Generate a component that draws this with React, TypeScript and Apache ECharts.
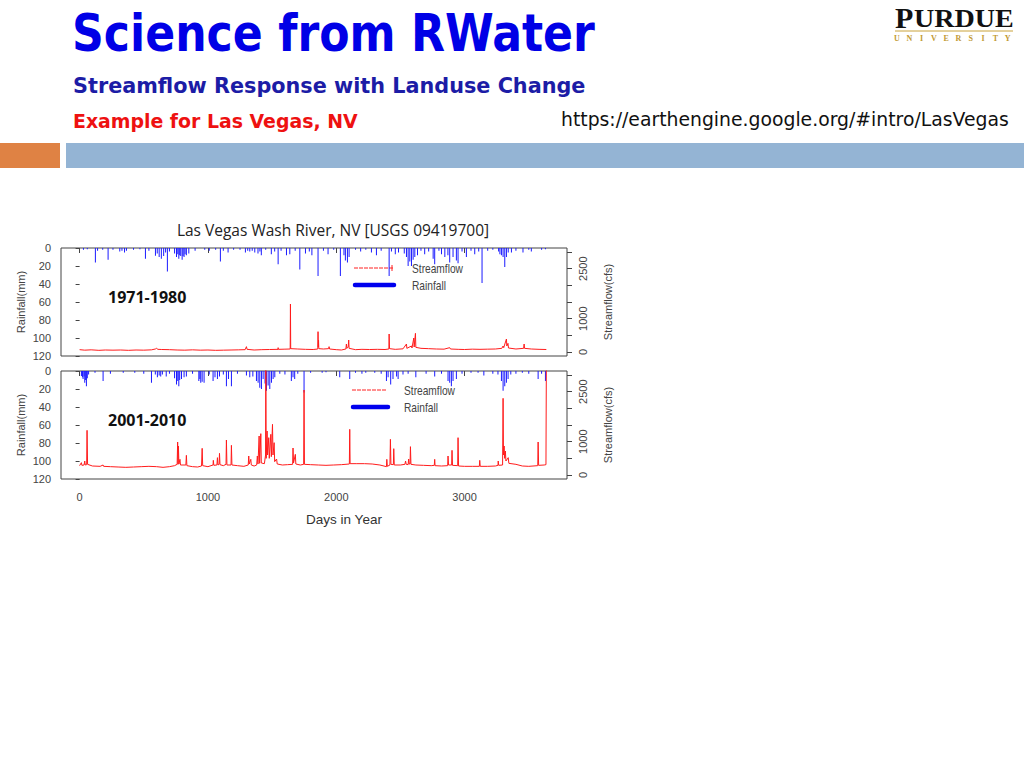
import React, { useEffect, useRef } from "react";
import * as echarts from "echarts";

// ---------- data ----------
const periods = ["1971-1980", "2001-2010"];
const xTickValues = [0, 1000, 2000, 3000];
const flowTickValues = [0, 500, 1000, 1500, 2000, 2500, 3000];
const flowLabelValues = [0, 1000, 2500];
const legendNames = ["Streamflow", "Rainfall"];

// [day, rainfall mm]
const rain7180: [number, number][] = [
  [30, 2], [60, 1.5], [123, 16], [140, 3], [180, 2], [222, 13], [260, 2], [313, 4], [330, 3], [350, 5],
  [365, 3], [420, 2], [470, 1.5], [513, 12], [540, 3], [591, 8.5], [605, 6], [620, 10], [637, 12], [655, 9],
  [670, 5], [684, 26], [700, 4], [740, 6], [755, 10], [765, 7], [773, 12], [780, 8], [788, 9], [799, 13],
  [806, 9], [814, 10], [822, 7], [832, 8], [851, 6], [900, 3], [975, 2], [1010, 3], [1060, 2], [1097, 15],
  [1120, 3], [1157, 5], [1200, 2], [1250, 2], [1292, 5], [1310, 3], [1326, 4], [1345, 3], [1365, 5], [1390, 6],
  [1405, 4], [1416, 8], [1450, 2], [1494, 7], [1520, 4], [1547, 18], [1570, 3], [1612, 8], [1638, 7], [1680, 3],
  [1716, 24], [1760, 6], [1790, 4], [1810, 8], [1858, 31], [1900, 3], [1936, 7], [1980, 2], [2032, 31], [2060, 8],
  [2071, 14], [2087, 16], [2100, 10], [2150, 2], [2190, 4], [2230, 2], [2274, 5], [2313, 8], [2350, 3], [2412, 31],
  [2430, 4], [2460, 7], [2485, 5], [2530, 6], [2547, 10], [2560, 20], [2573, 15], [2586, 20], [2599, 13], [2612, 10],
  [2633, 8], [2660, 3], [2689, 7], [2720, 4], [2755, 12], [2767, 18], [2800, 3], [2820, 7], [2846, 10], [2870, 8],
  [2884, 16], [2910, 10], [2936, 14], [2949, 17], [2980, 4], [3014, 10], [3050, 3], [3079, 7], [3110, 4], [3136, 39],
  [3180, 3], [3220, 2], [3265, 4], [3275, 7], [3287, 8], [3300, 10], [3313, 21], [3326, 10], [3340, 5], [3365, 5],
  [3400, 3], [3455, 5], [3500, 2], [3520, 4], [3600, 2], [3630, 1.5],
];

// [day, streamflow cfs]
const flow7180: [number, number][] = [
  [0, 70], [40, 55], [90, 65], [150, 50], [200, 60], [260, 55], [320, 60], [380, 50], [440, 60], [500, 55],
  [560, 65], [590, 90], [600, 110], [610, 80], [640, 75], [700, 70], [760, 60], [820, 55], [880, 65], [940, 55],
  [1000, 60], [1060, 50], [1120, 55], [1180, 60], [1240, 65], [1290, 70], [1300, 160], [1305, 80], [1360, 60], [1420, 70],
  [1480, 75], [1546, 80], [1547, 130], [1549, 80], [1600, 85], [1641, 90], [1643, 1440], [1645, 100], [1700, 90], [1760, 80],
  [1820, 75], [1856, 90], [1858, 610], [1860, 150], [1862, 350], [1864, 100], [1900, 90], [1940, 100], [1944, 160], [1948, 90],
  [2000, 70], [2040, 60], [2075, 90], [2079, 240], [2083, 110], [2093, 150], [2097, 360], [2100, 110], [2150, 70], [2200, 80],
  [2260, 75], [2320, 80], [2380, 75], [2410, 90], [2412, 540], [2415, 100], [2460, 80], [2520, 95], [2547, 240], [2550, 110],
  [2586, 180], [2590, 120], [2604, 420], [2607, 150], [2617, 560], [2620, 140], [2660, 110], [2720, 100], [2780, 90], [2840, 85],
  [2884, 130], [2890, 90], [2950, 80], [3000, 75], [3060, 85], [3120, 80], [3180, 85], [3240, 90], [3290, 110], [3300, 180],
  [3305, 130], [3326, 390], [3329, 180], [3338, 260], [3342, 120], [3400, 90], [3460, 110], [3464, 240], [3467, 110], [3520, 90],
  [3580, 80], [3637, 75],
];

const rain0110: [number, number][] = [
  [14, 5.5], [22, 7], [27, 9], [35, 6], [40, 13], [47, 10], [53, 17], [60, 8], [70, 4], [120, 2],
  [183, 11], [240, 3], [340, 2], [430, 2], [500, 3], [560, 13], [590, 4], [606, 7], [620, 5], [632, 6],
  [645, 4], [675, 6], [700, 3], [740, 8], [755, 15], [765, 11], [773, 17], [780, 10], [794, 9], [814, 7],
  [832, 6], [880, 3], [929, 11], [937, 9], [944, 13], [955, 12], [970, 13], [1010, 4], [1040, 11], [1055, 7],
  [1074, 9], [1090, 6], [1120, 4], [1144, 17], [1160, 9], [1183, 17], [1230, 3], [1300, 5], [1326, 7], [1350, 6],
  [1378, 11], [1391, 13], [1404, 18.5], [1417, 20], [1430, 9], [1445, 14], [1456, 22], [1469, 16], [1482, 20], [1495, 13],
  [1508, 9], [1521, 7], [1560, 3], [1600, 4], [1650, 11], [1663, 7], [1676, 9], [1700, 3], [1749, 24], [1800, 2],
  [1890, 2], [1920, 1.5], [2027, 7], [2105, 9], [2150, 2], [2200, 3], [2230, 2], [2300, 2], [2350, 3], [2391, 11],
  [2404, 7], [2424, 15], [2442, 9], [2470, 6], [2482, 9], [2520, 4], [2560, 3], [2620, 7], [2700, 3], [2767, 6],
  [2820, 3], [2871, 11], [2884, 13], [2897, 17], [2910, 11], [2936, 9], [2980, 3], [3050, 2], [3105, 2], [3150, 5],
  [3220, 3], [3260, 4], [3287, 11], [3300, 22], [3313, 17], [3326, 13], [3339, 9], [3360, 4], [3400, 3], [3450, 2],
  [3500, 3], [3573, 9], [3600, 3], [3630, 11],
];

const flow0110: [number, number][] = [
  [0, 280], [14, 370], [18, 290], [35, 300], [40, 420], [44, 300], [55, 310], [58, 1340], [62, 320], [100, 270],
  [160, 260], [183, 300], [187, 260], [240, 250], [300, 240], [360, 230], [420, 240], [480, 250], [540, 260], [600, 250],
  [650, 230], [700, 250], [740, 280], [760, 320], [764, 990], [767, 320], [770, 870], [774, 330], [782, 470], [786, 300],
  [828, 300], [832, 590], [836, 280], [880, 250], [920, 240], [950, 270], [955, 800], [959, 280], [1000, 250], [1040, 300],
  [1042, 440], [1046, 290], [1070, 300], [1074, 520], [1078, 300], [1087, 320], [1090, 650], [1094, 310], [1120, 280], [1141, 320],
  [1144, 1050], [1148, 300], [1180, 300], [1183, 890], [1187, 300], [1230, 280], [1280, 260], [1314, 300], [1318, 570], [1322, 330],
  [1334, 470], [1338, 300], [1360, 270], [1380, 300], [1385, 570], [1390, 330], [1399, 1170], [1403, 350], [1412, 1240], [1416, 360],
  [1440, 340], [1449, 600], [1451, 3150], [1454, 500], [1461, 1320], [1465, 600], [1474, 1120], [1478, 500], [1490, 1220], [1494, 550],
  [1503, 1520], [1507, 600], [1516, 970], [1520, 400], [1535, 480], [1540, 330], [1580, 300], [1620, 310], [1660, 320], [1663, 810],
  [1667, 360], [1681, 620], [1685, 330], [1720, 300], [1746, 320], [1749, 2550], [1752, 320], [1800, 310], [1860, 300], [1920, 290],
  [1980, 300], [2040, 310], [2102, 330], [2105, 1370], [2108, 340], [2160, 340], [2220, 340], [2280, 330], [2340, 300], [2391, 250],
  [2394, 470], [2398, 260], [2418, 300], [2422, 1070], [2426, 320], [2445, 310], [2448, 790], [2452, 300], [2500, 300], [2535, 320],
  [2540, 420], [2545, 320], [2560, 310], [2564, 480], [2568, 330], [2575, 330], [2578, 850], [2582, 320], [2620, 300], [2680, 290],
  [2740, 280], [2764, 290], [2767, 470], [2770, 280], [2820, 270], [2868, 280], [2871, 570], [2875, 300], [2899, 300], [2902, 740],
  [2906, 290], [2946, 280], [2949, 1120], [2953, 270], [3000, 260], [3060, 260], [3115, 260], [3118, 440], [3122, 260], [3180, 260],
  [3240, 270], [3260, 290], [3262, 420], [3266, 290], [3296, 300], [3300, 2300], [3303, 600], [3308, 870], [3312, 500], [3318, 720],
  [3322, 420], [3340, 520], [3345, 350], [3400, 320], [3450, 270], [3500, 260], [3570, 280], [3573, 990], [3577, 290], [3620, 300],
  [3634, 310], [3637, 3150],
];

const AXIS_FONT = "Liberation Sans";
const AXIS_COLOR = "#444";
const plain = (v: number) => String(v);

export default function App() {
  const ref = useRef<HTMLDivElement>(null);

  useEffect(() => {
    if (!ref.current) return;
    const chart = echarts.init(ref.current, null, { renderer: "svg" });

    const panels = [
      { top: 248, rain: rain7180, flow: flow7180, label: periods[0], lx1: 354, lx2: 393, tx: 412, ly: 268, tick: true },
      { top: 371, rain: rain0110, flow: flow0110, label: periods[1], lx1: 352, lx2: 387, tx: 404, ly: 390, tick: false },
    ];
    const gridLeft = 61;
    const gridWidth = 506;
    const gridHeight = 108;

    const grids = panels.map((p) => ({
      left: gridLeft,
      top: p.top,
      width: gridWidth,
      height: gridHeight,
      show: true,
      borderColor: "#444",
      borderWidth: 1,
      backgroundColor: "transparent",
    }));

    const xAxes = panels.map((p, i) => ({
      type: "value",
      gridIndex: i,
      min: -145,
      max: 3798,
      axisLine: { show: false },
      splitLine: { show: false },
      axisTick: { show: true, inside: false, length: 5, customValues: xTickValues, lineStyle: { color: AXIS_COLOR } },
      axisLabel: {
        show: i === 1,
        customValues: xTickValues,
        formatter: plain,
        margin: 12,
        fontSize: 11,
        fontFamily: AXIS_FONT,
        color: AXIS_COLOR,
      },
    }));

    const yAxes: any[] = [];
    panels.forEach((p, i) => {
      yAxes.push({
        type: "value",
        gridIndex: i,
        position: "left",
        inverse: true,
        min: 0,
        max: 120,
        interval: 20,
        axisLine: { show: false },
        splitLine: { show: false },
        axisTick: { show: true, length: 4, lineStyle: { color: AXIS_COLOR } },
        axisLabel: { margin: 10, fontSize: 11, fontFamily: AXIS_FONT, color: AXIS_COLOR, formatter: plain },
        name: "Rainfall(mm)",
        nameLocation: "middle",
        nameRotate: 90,
        nameGap: 35,
        nameTextStyle: { fontSize: 11, fontFamily: AXIS_FONT, color: AXIS_COLOR },
      });
      yAxes.push({
        type: "value",
        gridIndex: i,
        position: "right",
        min: -120,
        max: 3120,
        axisLine: { show: false },
        splitLine: { show: false },
        axisTick: { show: true, length: 5, customValues: flowTickValues, lineStyle: { color: AXIS_COLOR } },
        axisLabel: {
          customValues: flowLabelValues,
          formatter: plain,
          rotate: 90,
          margin: 10,
          fontSize: 11,
          fontFamily: AXIS_FONT,
          color: AXIS_COLOR,
        },
        name: "Streamflow(cfs)",
        nameLocation: "middle",
        nameRotate: 90,
        nameGap: 35,
        nameTextStyle: { fontSize: 11, fontFamily: AXIS_FONT, color: AXIS_COLOR },
      });
    });

    const series: any[] = [];
    panels.forEach((p, i) => {
      series.push({
        type: "bar",
        name: legendNames[1],
        xAxisIndex: i,
        yAxisIndex: i * 2,
        data: p.rain,
        barWidth: 1,
        itemStyle: { color: "#1a1aff" },
        silent: true,
      });
      series.push({
        type: "line",
        name: legendNames[0],
        xAxisIndex: i,
        yAxisIndex: i * 2 + 1,
        data: p.flow,
        showSymbol: false,
        clip: true,
        lineStyle: { color: "#ff1c1c", width: 1 },
        silent: true,
      });
    });

    const graphic: any[] = [
      // slide banner bars
      { type: "rect", shape: { x: 0, y: 143, width: 60, height: 25 }, style: { fill: "#df8244" } },
      { type: "rect", shape: { x: 66, y: 143, width: 958, height: 25 }, style: { fill: "#94b4d4" } },
      // slide titles
      {
        type: "text", x: 72, y: 33, scaleX: 0.85,
        style: { text: "Science from RWater", fontSize: 52, fontWeight: "bold", fontFamily: "DejaVu Sans", fill: "#0000e6", verticalAlign: "middle" },
      },
      {
        type: "text", x: 73, y: 86, scaleX: 0.99,
        style: { text: "Streamflow Response with Landuse Change", fontSize: 21, fontWeight: "bold", fontFamily: "DejaVu Sans", fill: "#1c1ca6", verticalAlign: "middle" },
      },
      {
        type: "text", x: 73, y: 121, scaleX: 0.945,
        style: { text: "Example for Las Vegas, NV", fontSize: 20, fontWeight: "bold", fontFamily: "DejaVu Sans", fill: "#ee1111", verticalAlign: "middle" },
      },
      {
        type: "text", x: 561, y: 119, scaleX: 0.99,
        style: { text: "https://earthengine.google.org/#intro/LasVegas", fontSize: 19, fontFamily: "DejaVu Sans", fill: "#111", verticalAlign: "middle" },
      },
      // Purdue logo
      {
        type: "text", x: 895, y: 17.5,
        style: { text: "P", fontSize: 30, lineHeight: 22, fontWeight: "bold", fontFamily: "Liberation Serif", fill: "#111", verticalAlign: "middle" },
      },
      {
        type: "text", x: 914, y: 18.5, scaleX: 1.08,
        style: { text: "URDUE", fontSize: 26, lineHeight: 20, fontWeight: "bold", fontFamily: "Liberation Serif", fill: "#111", verticalAlign: "middle" },
      },
      { type: "line", shape: { x1: 895, y1: 31, x2: 1013, y2: 31 }, style: { stroke: "#c9a23a", lineWidth: 1 } },
      ...Array.from("UNIVERSITY").map((ch, k) => ({
        type: "text", x: 897 + k * 12.3, y: 38.5,
        style: { text: ch, fontSize: 8, lineHeight: 8, fontWeight: "bold", fontFamily: "Liberation Serif", fill: "#c29a34", align: "center", verticalAlign: "middle" },
      })),
      // chart title
      {
        type: "text", x: 333, y: 230,
        style: { text: "Las Vegas Wash River, NV [USGS 09419700]", fontSize: 15.5, fontFamily: "Open Sans", fill: "#222", align: "center", verticalAlign: "middle" },
      },
      // x axis title
      {
        type: "text", x: 344, y: 519,
        style: { text: "Days in Year", fontSize: 13.5, fontFamily: AXIS_FONT, fill: "#333", align: "center", verticalAlign: "middle" },
      },
    ];

    panels.forEach((p) => {
      graphic.push({
        type: "text", x: 108, y: p.top + 49,
        style: { text: p.label, fontSize: 16, fontWeight: "bold", fontFamily: "Open Sans", fill: "#111", verticalAlign: "middle" },
      });
      graphic.push({
        type: "line", shape: { x1: p.lx1, y1: p.ly, x2: p.lx2, y2: p.ly },
        style: { stroke: "#ff2020", lineWidth: 1, lineDash: [4, 1] },
      });
      if (p.tick) {
        graphic.push({
          type: "line", shape: { x1: p.lx2 - 1, y1: p.ly - 3, x2: p.lx2 - 1, y2: p.ly + 3 },
          style: { stroke: "#ff2020", lineWidth: 1 },
        });
      }
      graphic.push({
        type: "line", shape: { x1: p.lx1 + 1, y1: p.ly + 17, x2: p.lx2 + 1, y2: p.ly + 17 },
        style: { stroke: "#0000ee", lineWidth: 4.5, lineCap: "round" },
      });
      graphic.push({
        type: "text", x: p.tx, y: p.ly + 1, scaleX: 0.85,
        style: { text: legendNames[0], fontSize: 12, fontFamily: AXIS_FONT, fill: "#444", verticalAlign: "middle" },
      });
      graphic.push({
        type: "text", x: p.tx, y: p.ly + 18, scaleX: 0.85,
        style: { text: legendNames[1], fontSize: 12, fontFamily: AXIS_FONT, fill: "#444", verticalAlign: "middle" },
      });
    });

    chart.setOption({
      animation: false,
      backgroundColor: "#ffffff",
      grid: grids,
      xAxis: xAxes,
      yAxis: yAxes,
      series,
      graphic,
    });

    return () => chart.dispose();
  }, []);

  return (
    <div
      ref={ref}
      style={{ position: "fixed", left: 0, top: 0, width: 1024, height: 768, background: "#fff" }}
    />
  );
}
